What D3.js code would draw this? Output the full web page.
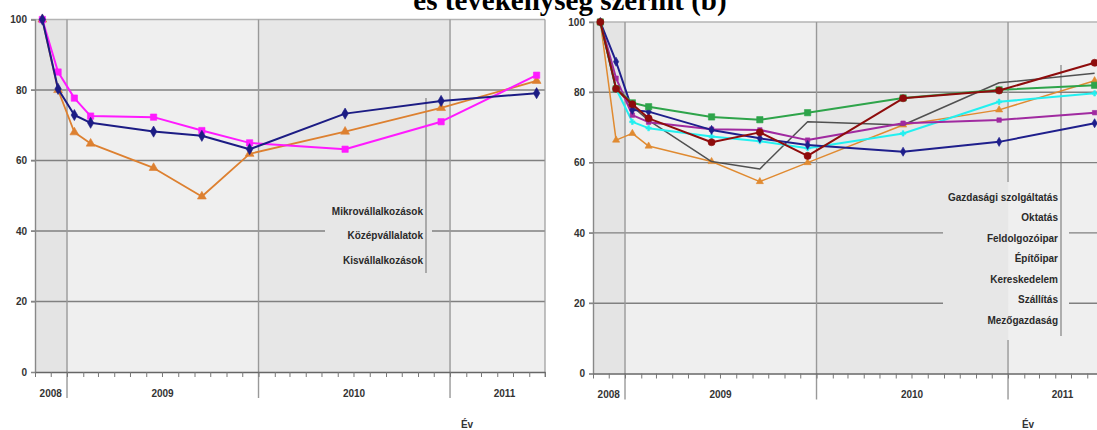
<!DOCTYPE html>
<html>
<head>
<meta charset="utf-8">
<script src="https://cdn.jsdelivr.net/npm/d3@7"></script>
<style>
  body { margin: 0; background: #fff; }
  svg { display: block; font-family: "Liberation Sans", Arial, sans-serif; }
</style>
</head>
<body>
<svg id="chart" width="1097" height="430"></svg>
<script>
// Observation dates shared by every series
const sampleDates = ["2008-11-15", "2008-12-15", "2009-01-15", "2009-02-15", "2009-06-15",
                     "2009-09-15", "2009-12-15", "2010-06-15", "2010-12-15", "2011-06-15"];
const yearLabels = ["2008", "2009", "2010", "2011"];
const yearLabelDates = ["2008-12-01", "2009-07-02", "2010-07-02", "2011-04-15"];
const yearBreaks = ["2009-01-01", "2010-01-01", "2011-01-01"];
const axisStart = "2008-11-01";
const axisEnd = "2011-07-01";
const yTicks = [0, 20, 40, 60, 80, 100];
const axisTitle = "Év";
const titleText = "és tevékenység szerint (b)";

// By company size (index, first observation = 100)
const sizeNames = ["Mikrovállalkozások", "Középvállalatok", "Kisvállalkozások"];
const mikro = [100, 80.3, 72.9, 70.7, 68.2, 67.0, 63.2, 73.3, 76.9, 79.1];
const kozep = [100, 85.1, 77.7, 72.6, 72.3, 68.5, 65.0, 63.2, 71.0, 84.2];
const kis   = [100, 80.0, 68.0, 64.8, 57.9, 49.8, 61.9, 68.2, 74.9, 82.6];

// By sector
const sectorNames = ["Gazdasági szolgáltatás", "Oktatás", "Feldolgozóipar", "Építőipar",
                     "Kereskedelem", "Szállítás", "Mezőgazdaság"];
const gazdasagi    = [100, 81.0, 77.0, 75.9, 73.0, 72.2, 74.2, 78.4, 80.7, 82.0];
const oktatas      = [100, 81.0, 76.6, 72.6, 65.8, 68.6, 61.9, 78.3, 80.5, 88.4];
const feldolgozo   = [100, 88.7, 75.0, 74.5, 69.3, 66.9, 65.0, 63.1, 65.9, 71.2];
const epitoipar    = [100, 81.0, 76.0, 72.0, 60.3, 58.2, 71.6, 70.7, 82.7, 85.4];
const kereskedelem = [100, 81.0, 71.6, 69.8, 67.4, 66.1, 64.1, 68.3, 77.3, 79.7];
const szallitas    = [100, 84.0, 73.5, 71.5, 69.5, 69.3, 66.4, 71.2, 72.1, 74.2];
const mezogazdasag = [100, 66.4, 68.3, 64.7, 60.3, 54.6, 60.0, 70.7, 75.0, 83.3];

const parse = d3.utcParse("%Y-%m-%d");
const svg = d3.select("#chart");

function drawPanel(cfg) {
  const g = svg.append("g");
  const x = d3.scaleUtc().domain([parse(axisStart), parse(axisEnd)]).range(cfg.xRange);
  const y = d3.scaleLinear().domain([0, 100]).range(cfg.yRange);
  const [x0, x1] = cfg.xRange;
  const yBottom = y(0), yTop = y(100);

  // alternating year bands
  const edges = [parse(axisStart), ...yearBreaks.map(parse), parse(axisEnd)];
  const bandFill = ["#e4e4e4", "#efefef", "#e7e7e7", "#efefef"];
  const bands = d3.pairs(edges).map((p, i) => ({ a: p[0], b: p[1], fill: bandFill[i] }));
  g.selectAll("rect.band").data(bands).join("rect")
    .attr("x", d => x(d.a)).attr("y", yTop)
    .attr("width", d => x(d.b) - x(d.a)).attr("height", yBottom - yTop)
    .attr("fill", d => d.fill);

  // horizontal gridlines
  g.selectAll("line.grid").data(yTicks.filter(v => v > 0)).join("line")
    .attr("x1", x0 - 4).attr("x2", x1)
    .attr("y1", d => y(d)).attr("y2", d => y(d))
    .attr("stroke", d => d === 100 ? "#b4b4b4" : "#808080")
    .attr("stroke-width", 1.4);

  // year boundary lines, extending below the axis
  g.selectAll("line.year").data(yearBreaks.map(parse)).join("line")
    .attr("x1", d => x(d)).attr("x2", d => x(d))
    .attr("y1", yTop).attr("y2", yBottom + 26)
    .attr("stroke", "#999").attr("stroke-width", 1.4);

  // right border of the plot area
  g.append("line").attr("x1", x1).attr("x2", x1).attr("y1", yTop).attr("y2", yBottom + 5)
    .attr("stroke", "#999").attr("stroke-width", 1.2);

  // legend box: repaint the bands inside it so gridlines are hidden
  const lb = cfg.legendBox;
  const clipId = "clip" + cfg.id;
  g.append("clipPath").attr("id", clipId).append("rect")
    .attr("x", lb.x).attr("y", lb.y).attr("width", lb.w).attr("height", lb.h);
  g.append("g").attr("clip-path", `url(#${clipId})`)
    .selectAll("rect").data(bands).join("rect")
    .attr("x", d => x(d.a)).attr("y", yTop)
    .attr("width", d => x(d.b) - x(d.a)).attr("height", yBottom - yTop)
    .attr("fill", d => d.fill);
  g.append("line").attr("x1", cfg.legendLine.x).attr("x2", cfg.legendLine.x)
    .attr("y1", cfg.legendLine.y1).attr("y2", cfg.legendLine.y2)
    .attr("stroke", "#777").attr("stroke-width", 1.1);
  g.selectAll("text.legend").data(cfg.names).join("text")
    .attr("x", cfg.legendTextX)
    .attr("y", (d, i) => cfg.legendTextY + i * cfg.legendStep)
    .attr("dy", "0.35em").attr("text-anchor", "end")
    .attr("font-size", 10).attr("font-weight", "bold").attr("fill", "#2a2a2a")
    .text(d => d);

  // y axis
  const yAxis = g.append("g").attr("transform", `translate(${x0},0)`)
    .call(d3.axisLeft(y).tickValues(yTicks).tickSize(4).tickPadding(4).tickFormat(d3.format("d")));
  yAxis.select(".domain").attr("stroke", "#888").attr("stroke-width", 1.4);
  yAxis.selectAll(".tick line").attr("stroke", "#888");
  yAxis.selectAll("text").attr("font-size", 10).attr("font-weight", "bold").attr("fill", "#333")
    .attr("font-family", "'Liberation Sans', Arial, sans-serif");

  // x axis with monthly ticks
  const xAxis = g.append("g").attr("transform", `translate(0,${yBottom})`)
    .call(d3.axisBottom(x).ticks(d3.utcMonth.every(1)).tickSize(5).tickSizeOuter(0).tickFormat(""));
  xAxis.select(".domain").attr("stroke", "#666").attr("stroke-width", 1.6);
  xAxis.selectAll(".tick line").attr("stroke", "#777");

  g.selectAll("text.yearlab").data(yearLabels).join("text")
    .attr("x", (d, i) => x(parse(yearLabelDates[i])))
    .attr("y", yBottom + 21).attr("dy", "0.35em").attr("text-anchor", "middle")
    .attr("font-size", 10).attr("font-weight", "bold").attr("fill", "#333")
    .text(d => d);

  g.append("text").attr("x", cfg.axisTitleX).attr("y", 428)
    .attr("text-anchor", "middle").attr("font-size", 10).attr("font-weight", "bold")
    .attr("fill", "#333").text(axisTitle);

  // series lines and markers
  const dates = sampleDates.map(parse);
  const line = d3.line().x((d, i) => x(dates[i])).y(d => y(d));
  cfg.series.forEach(s => {
    g.append("path").datum(s.values)
      .attr("d", line).attr("fill", "none")
      .attr("stroke", s.color).attr("stroke-width", s.width)
      .attr("stroke-linejoin", "round");
    if (s.symbol) {
      const sym = d3.symbol().type(s.symbol).size(s.size);
      g.selectAll(null).data(s.values).join("path")
        .attr("d", sym)
        .attr("transform", (d, i) => `translate(${x(dates[i])},${y(d)})`)
        .attr("fill", s.color).attr("stroke", s.color).attr("stroke-width", 0.6);
    }
  });
}

drawPanel({
  id: "L",
  xRange: [35, 545],
  yRange: [372, 19.5],
  names: sizeNames,
  legendBox: { x: 325, y: 190, w: 107, h: 85 },
  legendLine: { x: 426, y1: 98, y2: 273 },
  legendTextX: 423, legendTextY: 211.5, legendStep: 24.3,
  axisTitleX: 467,
  series: [
    { values: kis,   color: "#dd8030", width: 1.8, symbol: d3.symbolTriangle, size: 34 },
    { values: kozep, color: "#ff1aff", width: 2,   symbol: d3.symbolSquare,   size: 40 },
    { values: mikro, color: "#1c1c84", width: 2,   symbol: d3.symbolDiamond,  size: 36 }
  ]
});

drawPanel({
  id: "R",
  xRange: [593, 1103],
  yRange: [373.5, 22],
  names: sectorNames,
  legendBox: { x: 943, y: 182, w: 126, h: 158 },
  legendLine: { x: 1061, y1: 65, y2: 336 },
  legendTextX: 1058, legendTextY: 197, legendStep: 20.5,
  axisTitleX: 1028,
  series: [
    { values: mezogazdasag, color: "#e08a30", width: 1.5, symbol: d3.symbolTriangle, size: 22 },
    { values: epitoipar,    color: "#505050", width: 1.5, symbol: null },
    { values: kereskedelem, color: "#22f0f0", width: 2,   symbol: d3.symbolCross,    size: 16 },
    { values: szallitas,    color: "#a02aa0", width: 2,   symbol: d3.symbolSquare,   size: 20 },
    { values: feldolgozo,   color: "#1f1f8c", width: 2,   symbol: d3.symbolDiamond,  size: 24 },
    { values: gazdasagi,    color: "#2ea44a", width: 2,   symbol: d3.symbolSquare,   size: 40 },
    { values: oktatas,      color: "#8e0c0c", width: 2,   symbol: d3.symbolCircle,   size: 40 }
  ]
});

// page heading, partly above the visible area
svg.append("text").attr("x", 570).attr("y", 10).attr("text-anchor", "middle")
  .attr("font-family", "'Liberation Serif', 'Times New Roman', serif")
  .attr("font-size", 29).attr("font-weight", "bold").attr("fill", "#000")
  .text(titleText);
</script>
</body>
</html>
